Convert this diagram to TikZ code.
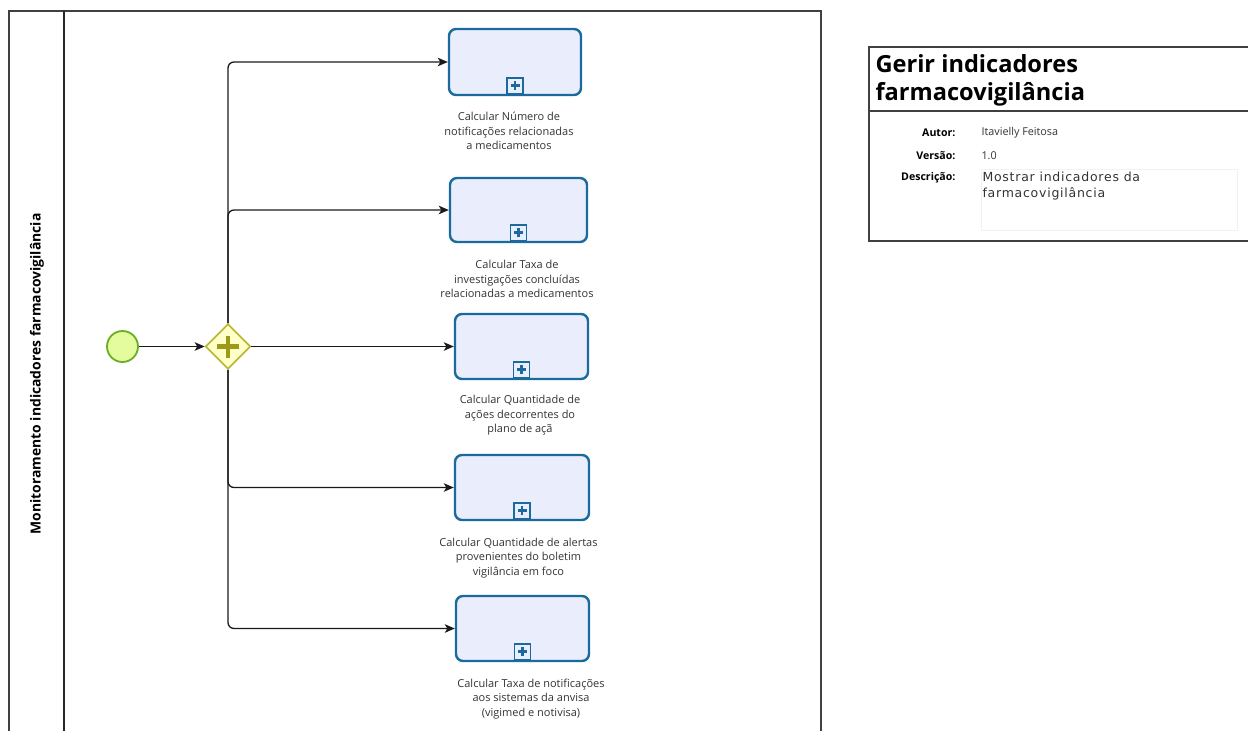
\documentclass[tikz,border=0pt]{standalone}
\usepackage{fontspec}
\setmainfont{Open Sans}
\newfontfamily\descfont[LetterSpace=6]{DejaVu Sans}
\usetikzlibrary{shapes.geometric,arrows.meta}
\definecolor{taskfill}{HTML}{E9EDFC}
\definecolor{taskline}{HTML}{1A6A9E}
\definecolor{startfill}{HTML}{E4FC9E}
\definecolor{startline}{HTML}{6AAE22}
\definecolor{gwfill}{HTML}{FFFFC8}
\definecolor{gwline}{HTML}{B8B42E}
\definecolor{gwplus}{HTML}{9E9A18}
\definecolor{flowc}{HTML}{1A1A1A}
\definecolor{textc}{HTML}{333333}
\tikzset{
  task/.style={draw=taskline, fill=taskfill, line width=2.4pt, rounded corners=7pt, inner sep=0pt},
  marker/.style={draw=taskline, fill=taskfill, line width=1.6pt, minimum size=16pt, inner sep=0pt},
  flow/.style={draw=flowc, line width=1.3pt, rounded corners=6pt, -{Stealth[length=10pt,width=8.5pt,inset=2.5pt]}},
  lbl/.style={align=center, font=\fontsize{11}{14.6}\selectfont, text=textc},
  infolbl/.style={anchor=east, font=\fontsize{10.6}{12}\selectfont\bfseries, text=black},
  infoval/.style={anchor=west, font=\fontsize{10.8}{12}\selectfont, text=textc},
}
\newcommand{\plusmark}[1]{%
  \draw[taskline, line width=2.6pt] ([xshift=-4.5pt]#1.center) -- ([xshift=4.5pt]#1.center);
  \draw[taskline, line width=2.6pt] ([yshift=-4.5pt]#1.center) -- ([yshift=4.5pt]#1.center);}
\begin{document}
\begin{tikzpicture}[x=1pt,y=-1pt]
\useasboundingbox (0,0) rectangle (1248,731);
\begin{scope}
\clip (0,0) rectangle (1248,731);
% pool and lane
\draw[draw=black!75, line width=1.3pt] (9,745) -- (9,11) -- (821,11) -- (821,745);
\draw[draw=black!85, line width=1.3pt] (64,11) -- (64,745);
\node[rotate=90, font=\fontsize{13.9}{16}\selectfont\bfseries] (lane) at (37,374) {Monitoramento indicadores farmacovigilância};
% info box
\draw[draw=black!75, line width=1.2pt] (1260,47) -- (869,47) -- (869,241) -- (1260,241);
\draw[draw=black!75, line width=1.2pt] (869,111) -- (1260,111);
\draw[draw=black!5, line width=0.6pt] (981,169) rectangle (1237,230);
\end{scope}
\node[anchor=north west, align=left, font=\fontsize{23.6}{28.5}\selectfont\bfseries] (title) at (872,51) {Gerir indicadores\\farmacovigilância};
\node[infolbl] (la) at (959,133) {Autor:};
\node[infolbl] (lv) at (959,156) {Versão:};
\node[infolbl] (ld) at (959,178) {Descrição:};
\node[infoval] (va) at (978,133) {Itavielly Feitosa};
\node[infoval] (vv) at (978,156) {1.0};
\node[anchor=north west, align=left, font=\fontsize{12.5}{16}\descfont\selectfont, text=textc] (vd) at (979,168) {Mostrar indicadores da\\farmacovigilância};
% start and gateway
\node[circle, draw=startline, fill=startfill, line width=1.8pt, minimum size=31pt, inner sep=0pt] (start) at (122.5,346.5) {};
\node[diamond, draw=gwline, fill=gwfill, line width=1.6pt, minimum width=45pt, minimum height=45pt, inner sep=0pt] (gw) at (228,346.5) {};
\draw[gwplus, line width=4.5pt] ([xshift=-11pt]gw.center) -- ([xshift=11pt]gw.center);
\draw[gwplus, line width=4.5pt] ([yshift=-11pt]gw.center) -- ([yshift=11pt]gw.center);
% tasks
\node[task, minimum width=132pt, minimum height=66pt] (t1) at (515,62) {};
\node[task, minimum width=137pt, minimum height=64pt] (t2) at (518.5,210) {};
\node[task, minimum width=133pt, minimum height=65pt] (t3) at (521.5,346.5) {};
\node[task, minimum width=134pt, minimum height=65pt] (t4) at (522,487.5) {};
\node[task, minimum width=133pt, minimum height=65pt] (t5) at (522.5,628.5) {};
\foreach \t in {t1,t2,t3,t4,t5}{
  \node[marker] (m\t) at ([yshift=10.5pt]\t.south) {};
  \plusmark{m\t}
}
% labels
\node[lbl] (l1) at (509,131) {Calcular Número de\\notificações relacionadas\\a medicamentos};
\node[lbl] (l2) at (517,279) {Calcular Taxa de\\investigações concluídas\\relacionadas a medicamentos};
\node[lbl] (l3) at (520,415.5) {Calcular Quantidade de\\ações decorrentes do\\plano de açã};
\node[lbl] (l4) at (518.5,558) {Calcular Quantidade de alertas\\provenientes do boletim\\vigilância em foco};
\node[lbl] (l5) at (531,699) {Calcular Taxa de notificações\\aos sistemas da anvisa\\(vigimed e notivisa)};
% flows
\draw[flow] (start) -- (gw);
\draw[flow] (gw.east) -- (t3.west);
\draw[flow] (gw.north) |- (t1.west);
\draw[flow] (gw.north) |- (t2.west);
\draw[flow] (gw.south) |- (t4.west);
\draw[flow] (gw.south) |- (t5.west);
\end{tikzpicture}
\end{document}
